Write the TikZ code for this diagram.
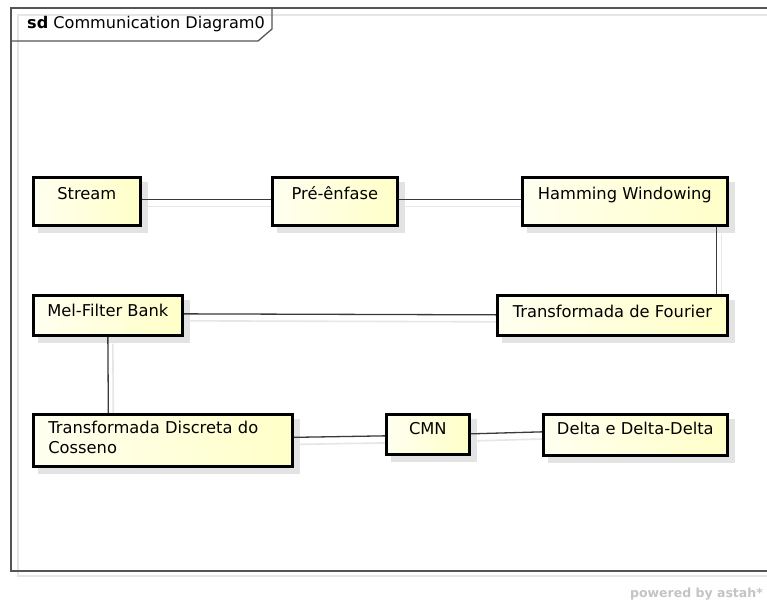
\documentclass[tikz,border=0pt]{standalone}
\usepackage{fontspec}
\setmainfont{DejaVu Sans}
\usetikzlibrary{calc}
\pgfdeclarelayer{paper}
\pgfdeclarelayer{shadow}
\pgfdeclarelayer{links}
\pgfsetlayers{paper,shadow,links,main}
\definecolor{shadowgray}{HTML}{E3E3E3}
\definecolor{shadowline}{HTML}{E6E6E6}
\definecolor{paleA}{HTML}{FFFFF0}
\definecolor{paleB}{HTML}{FFFFC8}
\definecolor{linkgray}{HTML}{3A3A3A}
\definecolor{framegray}{HTML}{555555}
\definecolor{credit}{HTML}{C4C4C4}
\tikzset{
  blockbox/.style={draw=black, line width=2.7pt, left color=paleA, right color=paleB,
    inner ysep=0pt, inner xsep=0pt, anchor=north west,
    font=\fontsize{16.3}{20}\selectfont},
  link/.style={draw=linkgray, line width=1.3pt,
    preaction={draw=shadowline, line width=1.6pt, transform canvas={shift={(5,7)}}}},
}
\begin{document}
\begin{tikzpicture}[x=1pt,y=-1pt]
\useasboundingbox (0,0) rectangle (767,604);
\begin{pgfonlayer}{paper}
\fill[white] (0,0) rectangle (767,604);
\end{pgfonlayer}

% frame with its shadow and name tab
\begin{pgfonlayer}{shadow}
\draw[shadowline, line width=2pt] (18,15) rectangle (790,576);
\end{pgfonlayer}
\draw[framegray, line width=1.8pt] (11,8) rectangle (790,571);
\draw[framegray, line width=1.3pt] (11,41) -- (258,41) -- (272,29) -- (272,8);
\node[anchor=base west, inner sep=0pt, font=\fontsize{16.1}{18}\selectfont] (title)
  at (27,29) {\textbf{sd} Communication Diagram0};

% processing blocks
\node[blockbox, minimum width=107pt, text height=22pt, text depth=26pt] (stream) at (32,176) {Stream};
\node[blockbox, minimum width=125pt, text height=22pt, text depth=26pt] (pre) at (271,176) {Pré-ênfase};
\node[blockbox, minimum width=205pt, text height=22pt, text depth=26pt] (ham) at (521,176) {Hamming Windowing};
\node[blockbox, minimum width=230pt, text height=22pt, text depth=18pt] (fourier) at (496,294) {Transformada de Fourier};
\node[blockbox, minimum width=149pt, text height=21pt, text depth=19pt] (mel) at (32,294) {Mel-Filter Bank};
\node[blockbox, inner xsep=15pt, text width=229pt, align=left, text height=19pt, text depth=33pt] (tdc) at (32,413) {Transformada Discreta do\\Cosseno};
\node[blockbox, minimum width=83pt, text height=20pt, text depth=20pt] (cmn) at (385,413) {CMN};
\node[blockbox, minimum width=184pt, text height=20pt, text depth=21pt] (delta) at (542,413) {Delta e Delta-Delta};

% block shadows
\begin{pgfonlayer}{shadow}
\foreach \n in {stream,pre,ham,fourier,mel,tdc,cmn,delta}
  \fill[shadowgray] ([shift={(6,6)}]\n.north west) rectangle ([shift={(6,6)}]\n.south east);
\end{pgfonlayer}

% connectors
\begin{pgfonlayer}{links}
\draw[link] ([yshift=2pt]stream.east) -- ([yshift=2pt]pre.west);
\draw[link] ([yshift=2pt]pre.east) -- ([yshift=2pt]ham.west);
\draw[link] ([xshift=91.5pt]ham.south) -- ([xshift=104pt]fourier.north);
\draw[link] ([yshift=1.5pt]mel.east) -- ([yshift=0.5pt]fourier.west);
\draw[link] (mel.south) -- ([xshift=-54.5pt]tdc.north);
\draw[link] ([yshift=3pt]tdc.east) -- ([yshift=-1.5pt]cmn.west);
\draw[link] ([yshift=0.5pt]cmn.east) -- ([yshift=3pt]delta.west);
\end{pgfonlayer}

\node[anchor=base east, inner sep=0pt, text=credit, font=\bfseries\fontsize{12.5}{15}\selectfont] (credit)
  at (763,597) {powered by astah*};
\end{tikzpicture}
\end{document}
